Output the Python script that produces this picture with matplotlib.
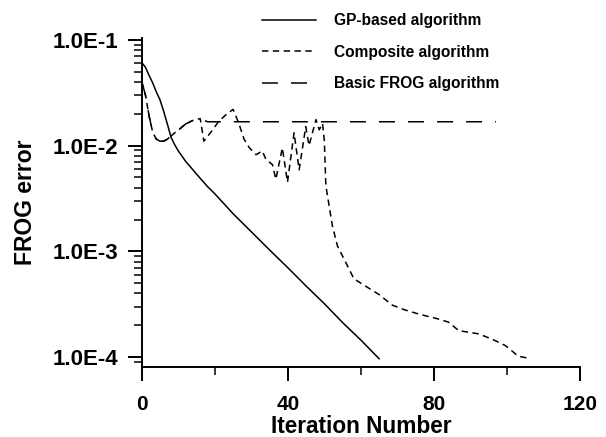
import matplotlib
matplotlib.use('Agg')
import matplotlib.pyplot as plt
from matplotlib.ticker import FixedLocator, LogLocator, NullFormatter

# ---------------- data ----------------
gp_iter = [0, 1, 2, 3, 4, 5, 6, 7, 8, 9, 10, 12, 14, 16, 18, 20,
           25, 30, 35, 40, 45, 50, 55, 60, 65]
gp_err = [0.061, 0.055, 0.046, 0.039, 0.032, 0.027, 0.021, 0.0160, 0.0120,
          0.0102, 0.0089, 0.0071, 0.0059, 0.0049, 0.0041, 0.0035,
          0.00227, 0.00153, 0.00103, 0.00070, 0.00047, 0.00032, 0.000212,
          0.000145, 0.0000965]

comp_iter = [0, 1, 2, 3, 4, 5, 6, 7, 8, 9, 10, 12, 14, 16,
             17, 19, 21, 23, 25, 26.5, 28, 29.5, 31.3, 33, 34, 35.8, 36.7,
             38.5, 39.9, 41.7, 43.1, 44.9, 45.8, 47.7, 48.6, 49.5, 50.0,
             50.4, 51.3, 52.2, 53.6, 55.9, 58.1, 60.4, 65, 68.6, 72, 75.9,
             81.3, 84, 86.8, 92.2, 95.9, 99.5, 101.3, 103.1, 105, 106]
comp_err = [0.040, 0.030, 0.019, 0.0133, 0.0115, 0.0110, 0.0110, 0.0115,
            0.0123, 0.0132, 0.0140, 0.0160, 0.0173, 0.0180,
            0.0110, 0.0135, 0.0168, 0.0195, 0.0220, 0.0165, 0.0115, 0.0095,
            0.0082, 0.0089, 0.0074, 0.0066, 0.0048, 0.0095, 0.0045, 0.0132,
            0.0059, 0.0151, 0.0100, 0.0176, 0.0141, 0.0162, 0.0110,
            0.0042, 0.0027, 0.00174, 0.00112, 0.00078, 0.00055, 0.00049,
            0.00039, 0.00031, 0.00028, 0.000255, 0.000229, 0.000214,
            0.000178, 0.000166, 0.000148, 0.000129, 0.000115, 0.000102,
            0.000099, 0.000098]

basic_iter = [0, 1, 2, 3, 4, 5, 6, 7, 8, 9, 10, 12, 14, 16, 18, 97]
basic_err = [0.040, 0.030, 0.019, 0.0133, 0.0115, 0.0110, 0.0110, 0.0115,
             0.0123, 0.0132, 0.0140, 0.0160, 0.0173, 0.0180, 0.0168, 0.0168]

labels = ['GP-based algorithm', 'Composite algorithm', 'Basic FROG algorithm']
x_ticks = [0, 40, 80, 120]
x_minor = [20, 60, 100]
y_ticks = [1e-4, 1e-3, 1e-2, 1e-1]
y_ticklabels = ['1.0E-4', '1.0E-3', '1.0E-2', '1.0E-1']

# ---------------- figure ----------------
plt.rcParams['font.family'] = ['Liberation Sans', 'DejaVu Sans']
plt.rcParams['font.weight'] = 'bold'
plt.rcParams['lines.scale_dashes'] = False

fig = plt.figure(figsize=(6.06, 4.37), dpi=100)
ax = fig.add_axes([0.234, 0.160, 0.723, 0.753])

ax.plot(gp_iter, gp_err, color='black', lw=1.1, label=labels[0])
ax.plot(comp_iter, comp_err, color='black', lw=1.1, dashes=(4.6, 3.2),
        label=labels[1])
ax.plot(basic_iter, basic_err, color='black', lw=1.1, dashes=(11.5, 9.4),
        label=labels[2])

ax.set_yscale('log')
ax.set_xlim(0, 120)
ax.set_ylim(8.05e-5, 0.104)

ax.xaxis.set_major_locator(FixedLocator(x_ticks))
ax.xaxis.set_minor_locator(FixedLocator(x_minor))
ax.set_xticklabels([str(t) for t in x_ticks])
ax.yaxis.set_major_locator(FixedLocator(y_ticks))
ax.yaxis.set_minor_locator(LogLocator(base=10, subs=range(2, 10)))
ax.yaxis.set_minor_formatter(NullFormatter())
ax.set_yticklabels(y_ticklabels)

for s in ['top', 'right']:
    ax.spines[s].set_visible(False)
for s in ['left', 'bottom']:
    ax.spines[s].set_linewidth(1.4)

ax.tick_params(which='major', direction='out', length=10, width=1.4)
ax.tick_params(which='minor', direction='out', length=5.5, width=1.1)
ax.tick_params(axis='x', which='major', pad=10, labelsize=15)
ax.tick_params(axis='y', which='major', pad=7, labelsize=16)

ax.set_xlabel('Iteration Number', fontsize=16.3, fontweight='bold',
              labelpad=1)
ax.set_ylabel('FROG error', fontsize=16.5, fontweight='bold', labelpad=11)

fig.legend(loc='upper left', bbox_to_anchor=(262 / 606, 1 - 13 / 437),
           frameon=False, prop={'weight': 'bold', 'size': 11.2},
           handlelength=3.5, handletextpad=1.15, labelspacing=1.07,
           borderaxespad=0, borderpad=0)

fig.savefig('out.png', dpi=100)
